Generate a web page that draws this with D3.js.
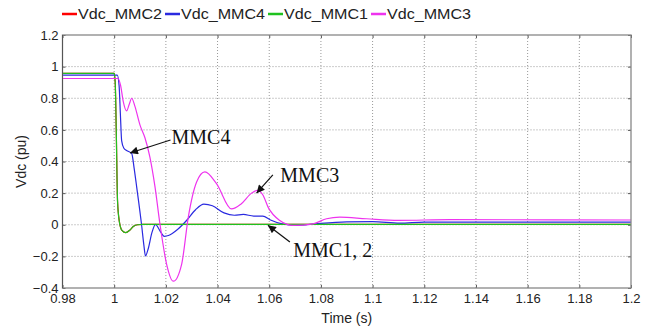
<!DOCTYPE html>
<html>
<head>
<meta charset="utf-8">
<script src="https://cdn.jsdelivr.net/npm/d3@7"></script>
<style>
    body { margin: 0; background: #fff; }
    text { font-family: "Liberation Sans", Arial, sans-serif; }
</style>
</head>
<body>
<div id="graphContainer"></div>
<script>
"use strict";
(function () {
    // series names and colours as in the legend
    const seriesNames = ["Vdc_MMC2", "Vdc_MMC4", "Vdc_MMC1", "Vdc_MMC3"]
    const seriesColors = ["#ff0000", "#2a2ae0", "#1fc21f", "#ee33ee"]

    const xTicks = [0.98, 1, 1.02, 1.04, 1.06, 1.08, 1.1, 1.12, 1.14, 1.16, 1.18, 1.2]
    const yTicks = [-0.4, -0.2, 0, 0.2, 0.4, 0.6, 0.8, 1, 1.2]

    // [time, value]
    const mmc1 = [
        [0.98, 0.957], [1.0, 0.957], [1.0004, 0.9], [1.0008, 0.6], [1.0013, 0.15],
        [1.002, 0.02], [1.003, -0.035], [1.0045, -0.05], [1.006, -0.035], [1.0075, -0.01],
        [1.009, 0.0], [1.011, 0.002], [1.05, 0.003], [1.2, 0.003]
    ]
    const mmc2 = [
        [0.98, 0.957], [1.0, 0.957], [1.0004, 0.9], [1.0008, 0.6], [1.0013, 0.15],
        [1.002, 0.02], [1.003, -0.035], [1.0045, -0.05], [1.006, -0.035], [1.0075, -0.01],
        [1.009, 0.0], [1.011, 0.002], [1.05, 0.003], [1.2, 0.003]
    ]
    const mmc4 = [
        [0.98, 0.946], [1.0012, 0.946], [1.0019, 0.88], [1.0024, 0.7], [1.0029, 0.53],
        [1.0037, 0.485], [1.0048, 0.47], [1.0068, 0.45], [1.0077, 0.36], [1.0087, 0.24],
        [1.0106, 0.0], [1.0115, -0.13], [1.0121, -0.197], [1.0132, -0.15], [1.0146, -0.05],
        [1.016, 0.003], [1.0176, -0.035], [1.0194, -0.073], [1.021, -0.068], [1.0245, -0.03],
        [1.028, 0.027], [1.0315, 0.095], [1.0347, 0.13], [1.038, 0.12], [1.0425, 0.075],
        [1.0465, 0.06], [1.05, 0.065], [1.054, 0.055], [1.0575, 0.055], [1.0605, 0.03],
        [1.065, 0.005], [1.0705, -0.004], [1.078, 0.006], [1.09, 0.018], [1.1, 0.02],
        [1.1105, 0.01], [1.12, 0.017], [1.2, 0.017]
    ]
    const mmc3 = [
        [0.98, 0.925], [1.0015, 0.925], [1.0025, 0.88], [1.0035, 0.78], [1.0048, 0.72],
        [1.0058, 0.76], [1.0068, 0.8], [1.008, 0.75], [1.01, 0.63], [1.0119, 0.55],
        [1.0138, 0.43], [1.0158, 0.24], [1.0177, 0.006], [1.0203, -0.25], [1.0229, -0.357],
        [1.0261, -0.25], [1.0287, 0.05], [1.0319, 0.27], [1.0351, 0.334], [1.0396, 0.26],
        [1.0454, 0.1], [1.049, 0.13], [1.0532, 0.2], [1.0555, 0.218], [1.0575, 0.19],
        [1.0596, 0.11], [1.0641, 0.027], [1.0692, -0.004], [1.077, 0.006], [1.0822, 0.038],
        [1.0873, 0.048], [1.0976, 0.038], [1.11, 0.028], [1.13, 0.032], [1.2, 0.03]
    ]
    // drawing order: red under green
    const seriesData = [mmc2, mmc4, mmc1, mmc3]

    // annotations: label, text anchor [t, v], arrow start and tip [t, v]
    const notes = [
        { label: "MMC4", text: [1.0222, 0.51], from: [1.0218, 0.536], to: [1.0061, 0.454] },
        { label: "MMC3", text: [1.0643, 0.27], from: [1.0614, 0.315], to: [1.0551, 0.2] },
        { label: "MMC1, 2", text: [1.0693, -0.205], from: [1.068, -0.109], to: [1.0595, -0.003] }
    ]

    const measurements = {
        width: 662,
        height: 333,
        left: 62.5,
        right: 631,
        top: 35,
        bottom: 288
    }

    let svgContainer = d3.select('#graphContainer').append("svg")
        .attr('width', measurements.width)
        .attr('height', measurements.height)

    let scaleX = d3.scaleLinear()
        .domain([0.98, 1.2])
        .range([measurements.left, measurements.right])
    let scaleY = d3.scaleLinear()
        .domain([-0.4, 1.2])
        .range([measurements.bottom, measurements.top])

    const plotW = measurements.right - measurements.left
    const plotH = measurements.bottom - measurements.top

    // dotted grid
    svgContainer.append('g')
        .selectAll('line.gx')
        .data(xTicks.slice(1, -1))
        .enter()
        .append('line')
        .attr('x1', d => scaleX(d)).attr('x2', d => scaleX(d))
        .attr('y1', measurements.top).attr('y2', measurements.bottom)
        .attr('stroke', '#999').attr('stroke-dasharray', '1,2')
    svgContainer.append('g')
        .selectAll('line.gy')
        .data(yTicks.slice(1, -1))
        .enter()
        .append('line')
        .attr('x1', measurements.left).attr('x2', measurements.right)
        .attr('y1', d => scaleY(d)).attr('y2', d => scaleY(d))
        .attr('stroke', '#999').attr('stroke-dasharray', '1,2')

    // axes, ticks pointing inward
    let xAxis = d3.axisBottom(scaleX).tickValues(xTicks)
        .tickSizeInner(-3).tickSizeOuter(0).tickPadding(6)
        .tickFormat(d3.format("~g"))
    let yAxis = d3.axisLeft(scaleY).tickValues(yTicks)
        .tickSizeInner(-3).tickSizeOuter(0).tickPadding(4)
        .tickFormat(d3.format("~g"))
    let xTop = d3.axisTop(scaleX).tickValues(xTicks).tickSizeInner(-3).tickSizeOuter(0).tickFormat("")
    let yRight = d3.axisRight(scaleY).tickValues(yTicks).tickSizeInner(-3).tickSizeOuter(0).tickFormat("")

    const gx = svgContainer.append('g')
        .attr('transform', `translate(0,${measurements.bottom})`)
        .call(xAxis)
    const gy = svgContainer.append('g')
        .attr('transform', `translate(${measurements.left},0)`)
        .call(yAxis)
    svgContainer.append('g').attr('transform', `translate(0,${measurements.top})`).call(xTop)
    svgContainer.append('g').attr('transform', `translate(${measurements.right},0)`).call(yRight)
    svgContainer.selectAll('.domain').remove()
    svgContainer.selectAll('.tick line').attr('stroke', '#555')
    gx.selectAll('text').attr('font-size', 13).attr('fill', '#222')
    gy.selectAll('text').attr('font-size', 13).attr('fill', '#222')

    // series lines
    const line = d3.line()
        .x(d => scaleX(d[0]))
        .y(d => scaleY(d[1]))
        .curve(d3.curveMonotoneX)
    svgContainer.append('g')
        .selectAll('path')
        .data(seriesData)
        .enter()
        .append('path')
        .attr('d', line)
        .attr('fill', 'none')
        .attr('stroke', (d, i) => seriesColors[i])
        .attr('stroke-width', 1.2)

    // box
    svgContainer.append('rect')
        .attr('x', measurements.left).attr('y', measurements.top)
        .attr('width', plotW).attr('height', plotH)
        .attr('fill', 'none').attr('stroke', '#888').attr('stroke-width', 1.3)
    svgContainer.append('line')
        .attr('x1', measurements.left).attr('x2', measurements.left)
        .attr('y1', measurements.top).attr('y2', measurements.bottom)
        .attr('stroke', '#555')

    // axis titles
    svgContainer.append('text')
        .attr('x', (measurements.left + measurements.right) / 2)
        .attr('y', 323)
        .attr('text-anchor', 'middle')
        .attr('font-size', 14).attr('fill', '#222')
        .text("Time (s)")
    svgContainer.append('text')
        .attr('transform', `translate(26,${(measurements.top + measurements.bottom) / 2}) rotate(-90)`)
        .attr('text-anchor', 'middle')
        .attr('font-size', 14).attr('fill', '#222')
        .text("Vdc (pu)")

    // legend
    const legend = svgContainer.append('g')
        .selectAll('g')
        .data(seriesNames)
        .enter()
        .append('g')
        .attr('transform', (d, i) => `translate(${62 + i * 103},14)`)
    legend.append('line')
        .attr('x1', 0).attr('x2', 15)
        .attr('stroke', (d, i) => seriesColors[i])
        .attr('stroke-width', 2.5)
    legend.append('text')
        .attr('x', 16).attr('y', 5)
        .attr('font-size', 14).attr('fill', '#222')
        .attr('textLength', 84).attr('lengthAdjust', 'spacingAndGlyphs')
        .text(d => d)

    // annotations with arrows
    svgContainer.append('defs').append('marker')
        .attr('id', 'arrow')
        .attr('viewBox', '0 0 10 10')
        .attr('refX', 10).attr('refY', 5)
        .attr('markerWidth', 12).attr('markerHeight', 8)
        .attr('markerUnits', 'userSpaceOnUse')
        .attr('orient', 'auto')
        .append('path')
        .attr('d', 'M0,0L10,5L0,10z')
        .attr('fill', '#111')
    const noteG = svgContainer.append('g')
    noteG.selectAll('line')
        .data(notes)
        .enter()
        .append('line')
        .attr('x1', d => scaleX(d.from[0])).attr('y1', d => scaleY(d.from[1]))
        .attr('x2', d => scaleX(d.to[0])).attr('y2', d => scaleY(d.to[1]))
        .attr('stroke', '#111').attr('stroke-width', 1.2)
        .attr('marker-end', 'url(#arrow)')
    noteG.selectAll('text')
        .data(notes)
        .enter()
        .append('text')
        .attr('x', d => scaleX(d.text[0])).attr('y', d => scaleY(d.text[1]))
        .style('font-family', '"Liberation Serif", "Times New Roman", serif')
        .attr('font-size', 20).attr('fill', '#111')
        .text(d => d.label)
})()
</script>
</body>
</html>
